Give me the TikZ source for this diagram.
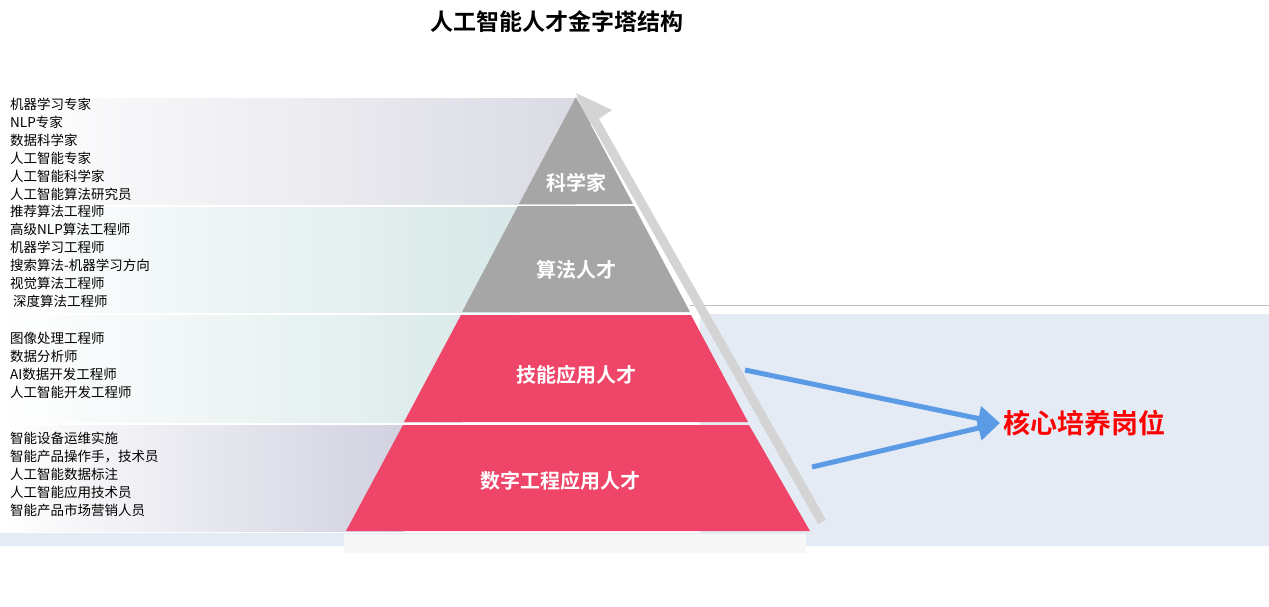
\documentclass[tikz,border=0pt]{standalone}
\usepackage{fontspec}
\setmainfont{Noto Sans CJK SC}[BoldFont={Noto Sans CJK SC Bold}]
\usetikzlibrary{arrows.meta}
\definecolor{pink}{HTML}{EF4568}
\definecolor{gr}{HTML}{A6A6A6}
\definecolor{bl}{HTML}{5B9BE6}
\definecolor{bgr}{HTML}{E4EBF4}
\begin{document}
\begin{tikzpicture}[x=1pt,y=-1pt,
 lst/.style={anchor=north west,align=left,font=\fontsize{13.5}{18}\selectfont,inner sep=0},
 lvl/.style={font=\fontsize{20}{24}\selectfont\bfseries,text=white},
 arr/.style={draw=bl,line width=5pt,-{Triangle[length=22pt,width=24pt]}}]
\useasboundingbox (0,0) rectangle (1269,606);
\fill[white] (0,0) rectangle (1269,606);
% right background
\fill[bgr] (700,314) rectangle (1269,546);
\draw[gray!50,line width=1pt] (690,305) -- (1269,305);
\draw[gray!50,line width=1pt] (800,537) -- (1269,537);
\fill[bgr] (0,533) rectangle (1269,546);
% left bands
\shade[left color=white,right color=blue!15!gray!25] (0,98) rectangle (576,204);
\shade[left color=white,right color=cyan!25!gray!25] (0,207) rectangle (520,312);
\shade[left color=white,right color=cyan!25!gray!22] (0,315) rectangle (462,422);
\shade[left color=white,right color=blue!20!gray!30] (0,425) rectangle (404,531);
% shadow bar
\draw[black!17,line width=9pt] (590,112) -- (822,522);
\fill[black!17] (576,93) -- (612,110) -- (588,126) -- cycle;
% pyramid
\fill[gr] (576,97) -- (633,204) -- (519,204) -- cycle;
\fill[gr] (518,206) -- (634,206) -- (690,312) -- (462,312) -- cycle;
\fill[pink] (461,315) -- (691,315) -- (748,422) -- (404,422) -- cycle;
\fill[pink] (403,425) -- (749,425) -- (810,531) -- (346,531) -- cycle;
\fill[black!3] (344,534) rectangle (806,553);
\node[lvl] (l1) at (576,183) {科学家};
\node[lvl] (l2) at (576,270) {算法人才};
\node[lvl] (l3) at (576,375) {技能应用人才};
\node[lvl] (l4) at (560,481) {数字工程应用人才};
% lists
\node[lst] (t1) at (10,98) {机器学习专家\\NLP专家\\数据科学家\\人工智能专家\\人工智能科学家\\人工智能算法研究员};
\node[lst] (t2) at (10,205) {推荐算法工程师\\高级NLP算法工程师\\机器学习工程师\\搜索算法-机器学习方向\\视觉算法工程师\\\ 深度算法工程师};
\node[lst] (t3) at (10,332) {图像处理工程师\\数据分析师\\AI数据开发工程师\\人工智能开发工程师};
\node[lst] (t4) at (10,432) {智能设备运维实施\\智能产品操作手，技术员\\人工智能数据标注\\人工智能应用技术员\\智能产品市场营销人员};
% target
\node[font=\fontsize{27}{30}\selectfont\bfseries,text=red,anchor=west] (core) at (1000,423) {核心培养岗位};
\coordinate (a1) at (745,370);
\coordinate (a2) at (812,467);
\draw[arr] (a1) -- (core.west);
\draw[arr] (a2) -- (core.west);
\node[font=\fontsize{23}{26}\selectfont\bfseries] (title) at (557,22) {人工智能人才金字塔结构};
\end{tikzpicture}
\end{document}
